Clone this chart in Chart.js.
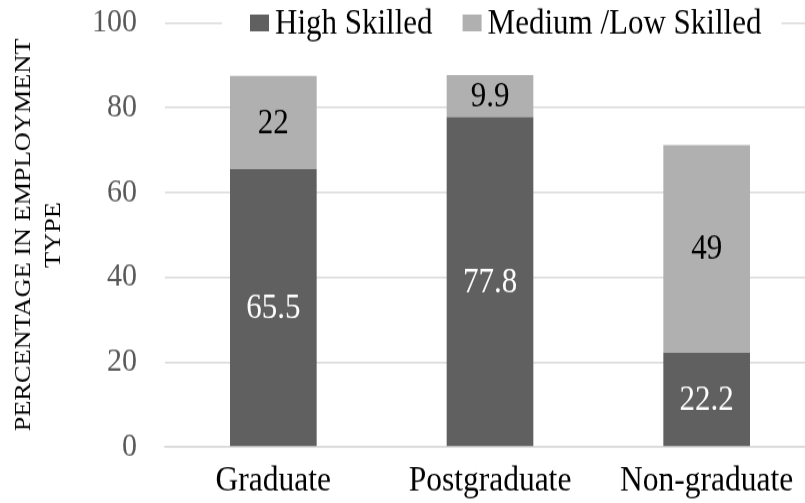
<!DOCTYPE html>
<html>
<head>
<meta charset="utf-8">
<script src="https://cdn.jsdelivr.net/npm/chart.js@4.4.1/dist/chart.umd.min.js"></script>
<style>
  html { overflow: hidden; }
  body { margin: 0; padding: 0; background: #fff; width: 805px; height: 503px; }
  /* the reference text is a bit taller than wide, so the whole chart is stretched vertically */
  #wrap { position: relative; width: 815px; height: 449px; transform: scale(1, 1.12); transform-origin: 0 0; }
</style>
</head>
<body>
<div id="wrap"><canvas id="chart" width="815" height="449"></canvas></div>
<script>
var categories = ['Graduate', 'Postgraduate', 'Non-graduate'];
var highSkilled = [65.5, 77.8, 22.2];
var mediumLowSkilled = [22, 9.9, 49];
var seriesNames = ['High Skilled', 'Medium /Low Skilled'];
var yTicks = [0, 20, 40, 60, 80, 100];

var FONT = "'Liberation Serif', 'Times New Roman', serif";

// data labels drawn at the middle of each bar segment
var barLabels = {
  id: 'barLabels',
  afterDatasetsDraw: function (chart) {
    var ctx = chart.ctx;
    ctx.save();
    ctx.font = '31px ' + FONT;
    ctx.textAlign = 'center';
    ctx.textBaseline = 'middle';
    chart.data.datasets.forEach(function (ds, i) {
      chart.getDatasetMeta(i).data.forEach(function (bar, j) {
        var mid = (bar.y + bar.base) / 2;
        ctx.fillStyle = i === 0 ? '#ffffff' : '#000000';
        ctx.fillText(String(ds.data[j]), bar.x, mid + 1);
      });
    });
    ctx.restore();
  }
};

// legend sits on top of the 100 gridline, like Excel does it
var overlayLegend = {
  id: 'overlayLegend',
  afterDraw: function (chart) {
    var ctx = chart.ctx;
    var y = chart.scales.y.getPixelForValue(100);
    ctx.save();
    ctx.font = '31px ' + FONT;
    ctx.textBaseline = 'middle';
    var boxW = 19, boxH = 15, gap = 6, between = 30;
    var x = 250;
    var widths = chart.data.datasets.map(function (ds) { return boxW + gap + ctx.measureText(ds.label).width; });
    ctx.fillStyle = '#ffffff';
    ctx.fillRect(x - 28, y - 15, widths[0] + widths[1] + between + 28 + 20, 30);
    chart.data.datasets.forEach(function (ds, i) {
      ctx.fillStyle = ds.backgroundColor;
      ctx.fillRect(x, y - boxH / 2, boxW, boxH);
      ctx.fillStyle = '#000000';
      ctx.fillText(ds.label, x + boxW + gap, y + 1);
      x += widths[i] + between;
    });
    ctx.restore();
  }
};

new Chart(document.getElementById('chart'), {
  type: 'bar',
  data: {
    labels: categories,
    datasets: [
      { label: seriesNames[0], data: highSkilled, backgroundColor: '#606060' },
      { label: seriesNames[1], data: mediumLowSkilled, backgroundColor: '#b0b0b0' }
    ]
  },
  options: {
    responsive: false,
    devicePixelRatio: 1,
    animation: false,
    layout: { padding: { top: 20.5, left: 0, right: 0, bottom: 0 } },
    datasets: { bar: { categoryPercentage: 1, barPercentage: 0.4 } },
    plugins: {
      legend: { display: false },
      tooltip: { enabled: false }
    },
    scales: {
      x: {
        stacked: true,
        grid: { display: false, drawTicks: false },
        border: { color: '#d9d9d9', width: 1.5 },
        ticks: { color: '#000000', font: { family: FONT, size: 31.5 }, padding: 12 },
        afterFit: function (axis) {
          axis.height = 50;
          axis.paddingLeft = 0;
          axis.paddingRight = 0;
        }
      },
      y: {
        stacked: true,
        min: 0,
        max: 100,
        afterBuildTicks: function (axis) {
          axis.ticks = yTicks.map(function (v) { return { value: v }; });
        },
        grid: { color: '#d9d9d9', lineWidth: 1.5, drawTicks: false },
        border: { display: false },
        ticks: { color: '#595959', font: { family: FONT, size: 30 }, padding: 28 },
        title: {
          display: true,
          text: ['PERCENTAGE IN EMPLOYMENT', 'TYPE'],
          color: '#000000',
          font: { family: FONT, size: 23.5, lineHeight: 1.28 },
          padding: { top: 9, bottom: 23 }
        },
        afterFit: function (axis) {
          axis.width = 165;
          axis.paddingTop = 0;
          axis.paddingBottom = 0;
        }
      }
    }
  },
  plugins: [barLabels, overlayLegend]
});
</script>
</body>
</html>
